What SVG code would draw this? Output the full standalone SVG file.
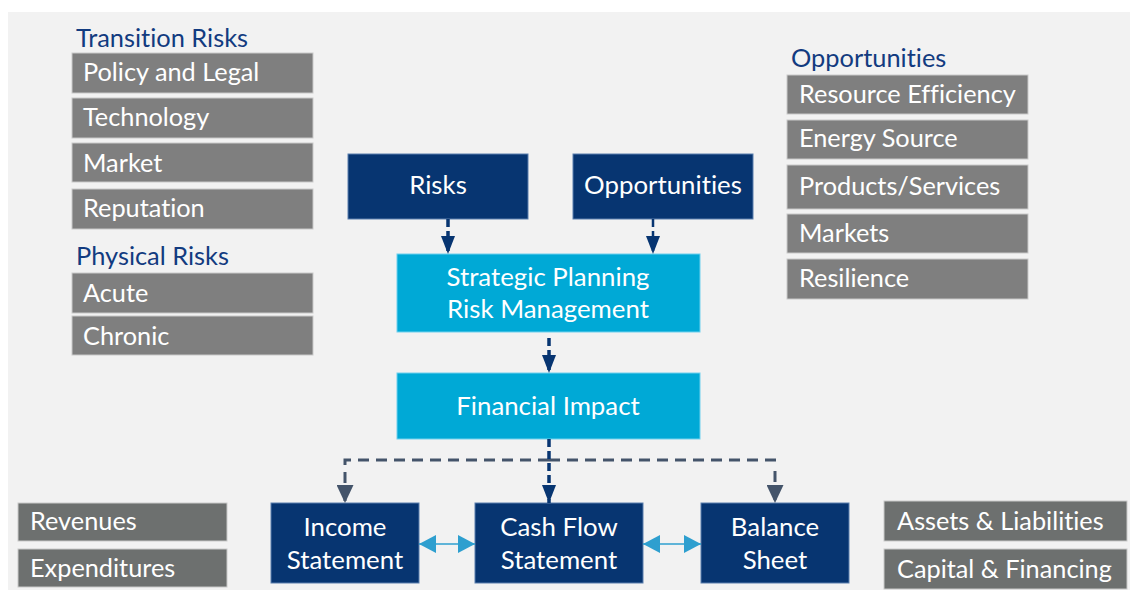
<svg xmlns="http://www.w3.org/2000/svg" width="1130" height="590" viewBox="0 0 1130 590">
<style>
text{font-family:Lato,"Open Sans","Liberation Sans",sans-serif;font-variant-ligatures:none;font-feature-settings:"liga" 0,"dlig" 0,"clig" 0;}
.gb{fill:#7f7f7f;stroke:#c9c9c9;stroke-width:1}
.gd{fill:#6d706f;stroke:#c9c9c9;stroke-width:1}
.nb{fill:#073571;stroke:#5a7fae;stroke-width:1}
.cb{fill:#00a9d6;stroke:#6fd0ee;stroke-width:1}
.lt{fill:#ffffff;font-size:25.3px}
.ct{fill:#ffffff;font-size:25.8px;text-anchor:middle}
.tt{fill:#123b80;font-size:25.4px}
.dn{fill:none;stroke:#073571;stroke-width:3.5;stroke-dasharray:8 4}
.ds{fill:none;stroke:#44546a;stroke-width:3;stroke-dasharray:11 7}
.cy{fill:none;stroke:#2e9fcf;stroke-width:1.5}
</style>
<defs>
<marker id="an" markerUnits="userSpaceOnUse" markerWidth="18" markerHeight="14" refX="18" refY="7" orient="auto"><path d="M0,0 L18,7 L0,14 z" fill="#073571"/></marker>
<marker id="as" markerUnits="userSpaceOnUse" markerWidth="18" markerHeight="17" refX="18" refY="8.5" orient="auto"><path d="M0,0 L18,8.5 L0,17 z" fill="#44546a"/></marker>
<marker id="ac" markerUnits="userSpaceOnUse" markerWidth="17" markerHeight="18" refX="17" refY="9" orient="auto-start-reverse"><path d="M0,0 L17,9 L0,18 z" fill="#2e9fcf"/></marker>
</defs>
<rect x="0" y="0" width="1130" height="590" fill="#ffffff"/>
<rect x="8" y="12" width="1122" height="578" fill="#f2f2f2"/>

<g id="transition-risks">
<text class="tt" x="76" y="47">Transition Risks</text>
</g>
<g id="policy-legal"><rect class="gb" x="72" y="53" width="241" height="40"/><text class="lt" x="83" y="81">Policy and Legal</text></g>
<g id="technology"><rect class="gb" x="72" y="98" width="241" height="40"/><text class="lt" x="83" y="126">Technology</text></g>
<g id="market"><rect class="gb" x="72" y="143" width="241" height="39"/><text class="lt" x="83" y="172">Market</text></g>
<g id="reputation"><rect class="gb" x="72" y="189" width="241" height="40"/><text class="lt" x="83" y="217">Reputation</text></g>
<g id="physical-risks"><text class="tt" x="76" y="265">Physical Risks</text></g>
<g id="acute"><rect class="gb" x="72" y="273" width="241" height="40"/><text class="lt" x="83" y="302">Acute</text></g>
<g id="chronic"><rect class="gb" x="72" y="316" width="241" height="39"/><text class="lt" x="83" y="345">Chronic</text></g>

<g id="opportunities-title"><text class="tt" x="791" y="67">Opportunities</text></g>
<g id="resource-efficiency"><rect class="gb" x="787" y="75" width="241" height="39"/><text class="lt" x="799" y="103">Resource Efficiency</text></g>
<g id="energy-source"><rect class="gb" x="787" y="120" width="241" height="39"/><text class="lt" x="799" y="147">Energy Source</text></g>
<g id="products-services"><rect class="gb" x="787" y="165" width="241" height="44"/><text class="lt" x="799" y="195">Products/Services</text></g>
<g id="markets"><rect class="gb" x="787" y="214" width="241" height="39"/><text class="lt" x="799" y="242">Markets</text></g>
<g id="resilience"><rect class="gb" x="787" y="259" width="241" height="40"/><text class="lt" x="799" y="287">Resilience</text></g>

<g id="risks"><rect class="nb" x="348" y="154" width="180" height="65"/><text class="ct" x="438" y="194">Risks</text></g>
<g id="opportunities"><rect class="nb" x="573" y="154" width="180" height="65"/><text class="ct" x="663" y="194">Opportunities</text></g>
<g id="strategic-planning"><rect class="cb" x="397" y="254" width="303" height="78"/><text class="ct" x="548" y="286">Strategic Planning</text><text class="ct" x="548" y="318">Risk Management</text></g>
<g id="financial-impact"><rect class="cb" x="397" y="373" width="303" height="66"/><text class="ct" x="548" y="415">Financial Impact</text></g>

<g id="income-statement"><rect class="nb" x="271" y="503" width="148" height="80"/><text class="ct" x="345" y="536">Income</text><text class="ct" x="345" y="569">Statement</text></g>
<g id="cash-flow-statement"><rect class="nb" x="475" y="503" width="168" height="80"/><text class="ct" x="559" y="536">Cash Flow</text><text class="ct" x="559" y="569">Statement</text></g>
<g id="balance-sheet"><rect class="nb" x="701" y="503" width="148" height="80"/><text class="ct" x="775" y="536">Balance</text><text class="ct" x="775" y="569">Sheet</text></g>

<g id="revenues"><rect class="gd" x="18" y="503" width="209" height="38"/><text class="lt" x="30" y="530">Revenues</text></g>
<g id="expenditures"><rect class="gd" x="18" y="549" width="209" height="38"/><text class="lt" x="30" y="577">Expenditures</text></g>
<g id="assets-liabilities"><rect class="gd" x="884" y="501" width="243" height="40"/><text class="lt" x="897" y="530">Assets &amp; Liabilities</text></g>
<g id="capital-financing"><rect class="gd" x="884" y="549" width="243" height="40"/><text class="lt" x="897" y="578">Capital &amp; Financing</text></g>

<g id="connectors">
<path class="dn" d="M448,219 V254" marker-end="url(#an)"/>
<path class="dn" d="M653,219 V254" style="stroke-width:2.5" marker-end="url(#an)"/>
<path class="dn" d="M549,338 V373" marker-end="url(#an)"/>
<path class="ds" d="M549,460 H345 V503" marker-end="url(#as)"/>
<path class="ds" d="M549,460 H777"/>
<path class="ds" d="M775,471 V503" marker-end="url(#as)"/>
<path class="dn" d="M549,439 V503" marker-end="url(#an)"/>
<path class="cy" d="M419,544 H475" marker-start="url(#ac)" marker-end="url(#ac)"/>
<path class="cy" d="M643,544 H701" marker-start="url(#ac)" marker-end="url(#ac)"/>
</g>
</svg>
